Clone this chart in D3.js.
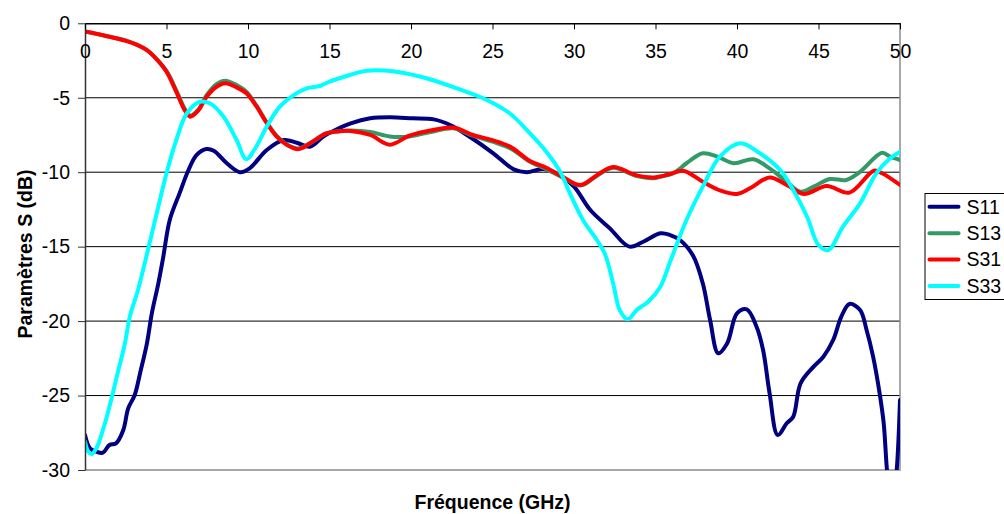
<!DOCTYPE html>
<html>
<head>
<meta charset="utf-8">
<script src="https://cdn.jsdelivr.net/npm/d3@7"></script>
<style>
  html, body { margin: 0; padding: 0; background: #fff; }
  svg { display: block; font-family: "Liberation Sans", Arial, sans-serif; }
</style>
</head>
<body>
<svg id="chart" width="1004" height="514"></svg>
<script>
// Frequency sweep, 0–50 GHz: [GHz, dB] pairs for each S-parameter
const s11 = [[0,-27.65],[0.3,-28.54],[0.7,-28.77],[1.1,-28.84],[1.5,-28.32],[1.9,-28.21],[2.35,-27.31],[2.65,-25.86],[3.05,-24.96],[3.4,-23.4],[3.8,-21.49],[4.1,-19.48],[4.5,-17.46],[4.8,-15.7],[5.2,-13.21],[5.8,-11.42],[6.35,-9.85],[6.85,-8.84],[7.45,-8.44],[7.9,-8.56],[8.7,-9.4],[9.5,-10.0],[10.1,-9.74],[11.15,-8.51],[12.2,-7.84],[13.0,-8.02],[13.8,-8.29],[14.6,-7.62],[15.3,-7.2],[16.3,-6.72],[17.5,-6.38],[18.7,-6.31],[20.1,-6.38],[21.4,-6.45],[22.4,-6.83],[23.6,-7.62],[25.05,-8.73],[26.3,-9.81],[27.1,-10.0],[28.1,-9.78],[29.1,-10.19],[30.0,-10.97],[31.0,-12.54],[32.2,-13.77],[33.4,-15.0],[34.25,-14.67],[35.3,-14.1],[35.9,-14.22],[36.5,-14.55],[37.3,-15.6],[37.9,-17.46],[38.35,-19.93],[38.85,-22.16],[39.4,-21.49],[40.0,-19.48],[40.6,-19.21],[41.2,-20.38],[41.6,-21.94],[42.0,-24.85],[42.5,-27.65],[43.05,-26.86],[43.45,-26.42],[43.9,-24.18],[44.7,-23.06],[45.3,-22.39],[45.9,-21.27],[46.4,-19.7],[46.9,-18.85],[47.55,-19.25],[47.95,-20.6],[48.35,-22.39],[48.75,-24.85],[49.0,-26.86],[49.2,-30.0],[49.5,-33.0],[49.8,-30.0],[50,-25.3]];

const s13 = [[0,-0.55],[1.3,-0.85],[2.5,-1.15],[3.2,-1.45],[3.8,-1.8],[4.4,-2.4],[5.0,-3.2],[5.6,-4.5],[6.1,-5.7],[6.45,-6.2],[6.95,-5.8],[7.45,-4.85],[8.05,-4.1],[8.6,-3.85],[9.3,-4.15],[9.9,-4.6],[10.5,-5.5],[11.15,-6.65],[11.75,-7.55],[12.4,-8.15],[13.1,-8.4],[13.8,-8.06],[14.8,-7.4],[15.6,-7.25],[16.3,-7.2],[17.5,-7.3],[18.7,-7.6],[19.9,-7.6],[21.2,-7.3],[22.6,-7.05],[23.8,-7.55],[25.0,-7.95],[26.1,-8.4],[27.3,-9.3],[28.3,-9.8],[29.3,-10.35],[30.4,-10.9],[31.4,-10.25],[32.4,-9.7],[33.8,-10.25],[34.9,-10.4],[35.3,-10.3],[36.1,-10.07],[36.9,-9.4],[37.9,-8.73],[38.8,-8.96],[39.8,-9.4],[41.0,-9.13],[42.0,-9.74],[43.05,-10.64],[43.9,-11.31],[44.7,-10.97],[45.7,-10.46],[46.7,-10.52],[47.55,-9.97],[48.9,-8.69],[49.4,-8.96],[50,-9.18]];

const s31 = [[0,-0.55],[1.3,-0.85],[2.5,-1.18],[3.2,-1.45],[3.8,-1.8],[4.4,-2.42],[5.0,-3.25],[5.6,-4.6],[6.1,-5.8],[6.45,-6.27],[6.95,-5.85],[7.45,-4.95],[8.05,-4.28],[8.6,-4.03],[9.3,-4.3],[9.9,-4.7],[10.5,-5.55],[11.15,-6.7],[11.75,-7.6],[12.4,-8.17],[13.1,-8.45],[13.8,-8.06],[14.8,-7.4],[15.6,-7.25],[16.3,-7.23],[17.5,-7.5],[18.7,-8.15],[19.9,-7.55],[21.2,-7.2],[22.6,-7.0],[23.8,-7.5],[25.0,-7.85],[26.1,-8.3],[27.3,-9.25],[28.3,-9.7],[29.3,-10.3],[30.4,-10.86],[31.4,-10.2],[32.4,-9.65],[33.8,-10.2],[34.9,-10.35],[35.9,-10.12],[36.7,-9.9],[37.9,-10.64],[39.0,-11.24],[40.0,-11.46],[40.8,-11.08],[42.0,-10.35],[43.05,-10.86],[44.1,-11.46],[45.5,-10.93],[46.9,-11.37],[48.4,-9.9],[48.9,-10.07],[50,-10.86]];

const s33 = [[0,-28.1],[0.2,-28.77],[0.4,-28.93],[0.7,-28.54],[1.1,-27.31],[1.5,-25.75],[1.95,-23.73],[2.45,-21.49],[2.75,-19.7],[3.25,-17.91],[3.8,-15.5],[4.4,-12.76],[5.0,-10.07],[5.6,-7.84],[6.25,-6.04],[7.05,-5.27],[7.65,-5.37],[8.5,-6.27],[9.3,-7.84],[9.9,-9.13],[10.5,-8.29],[11.15,-6.94],[11.95,-5.6],[12.8,-4.82],[13.6,-4.37],[14.4,-4.21],[15.0,-3.92],[16.25,-3.47],[17.3,-3.18],[19.1,-3.25],[20.95,-3.69],[22.8,-4.37],[24.65,-5.15],[26.05,-6.04],[27.3,-7.39],[28.3,-8.62],[29.15,-9.97],[29.75,-11.42],[30.55,-13.21],[31.4,-14.55],[31.9,-15.5],[32.4,-17.46],[32.8,-19.25],[33.3,-19.88],[33.85,-19.25],[34.55,-18.7],[35.3,-17.69],[35.9,-16.0],[36.9,-13.21],[37.9,-10.97],[38.95,-8.96],[40.2,-8.06],[41.4,-8.73],[42.65,-9.85],[43.45,-11.2],[44.3,-12.99],[45.0,-14.89],[45.6,-15.23],[46.5,-13.66],[47.55,-12.09],[48.55,-10.07],[49.4,-9.07],[50,-8.62]];

const seriesNames = ["S11", "S13", "S31", "S33"];
const seriesData = [s11, s13, s31, s33];
const seriesColors = ["#000080", "#339966", "#FF0000", "#00FFFF"];

const xTicks = [0, 5, 10, 15, 20, 25, 30, 35, 40, 45, 50];
const yTicks = [0, -5, -10, -15, -20, -25, -30];

const xTitle = "Fréquence (GHz)";
const yTitle = "Paramètres S (dB)";

// ---- layout ----
const plot = { left: 85, right: 900, top: 23.3, bottom: 470 };
const fontSize = 19.5;
const plainNumber = d => String(d); // keeps an ASCII hyphen for negatives

const svg = d3.select("#chart");

const x = d3.scaleLinear().domain([0, 50]).range([plot.left, plot.right]);
const y = d3.scaleLinear().domain([-30, 0]).range([plot.bottom, plot.top]);

// Horizontal gridlines
svg.append("g")
  .selectAll("line")
  .data(yTicks.filter(d => d !== 0 && d !== -30))
  .join("line")
  .attr("x1", plot.left).attr("x2", plot.right)
  .attr("y1", d => y(d)).attr("y2", d => y(d))
  .attr("stroke", "#000").attr("stroke-width", 1);

// Plot-area border (right and bottom)
svg.append("path")
  .attr("d", `M${plot.right},${plot.top}V${plot.bottom}H${plot.left}`)
  .attr("fill", "none").attr("stroke", "#8c8c8c").attr("stroke-width", 1.5);

// Curves, clipped to the plot area
svg.append("clipPath").attr("id", "plotClip")
  .append("rect")
  .attr("x", plot.left).attr("y", plot.top)
  .attr("width", plot.right - plot.left).attr("height", plot.bottom - plot.top);

const line = d3.line()
  .x(d => x(d[0]))
  .y(d => y(d[1]))
  .curve(d3.curveCatmullRom.alpha(0.5));

svg.append("g").attr("clip-path", "url(#plotClip)")
  .selectAll("path")
  .data(seriesData)
  .join("path")
  .attr("d", line)
  .attr("fill", "none")
  .attr("stroke", (d, i) => seriesColors[i])
  .attr("stroke-width", 4)
  .attr("stroke-linejoin", "round")
  .attr("stroke-linecap", "round");

// Y axis (left)
const yAxis = svg.append("g")
  .attr("transform", `translate(${plot.left},0)`)
  .call(d3.axisLeft(y).tickValues(yTicks).tickSize(7).tickSizeOuter(0).tickPadding(8).tickFormat(plainNumber));
yAxis.select(".domain").attr("stroke", "#333").attr("stroke-width", 1.5);
yAxis.selectAll(".tick line").attr("stroke", "#333");
yAxis.selectAll("text").attr("font-size", fontSize).attr("fill", "#000")
  .style("font-family", '"Liberation Sans", Arial, sans-serif');

// X axis along the 0 dB line, ticks pointing into the plot
const xAxis = svg.append("g")
  .attr("transform", `translate(0,${y(0)})`)
  .call(d3.axisBottom(x).tickValues(xTicks).tickSize(6).tickSizeOuter(0).tickPadding(15).tickFormat(plainNumber));
xAxis.select(".domain").attr("stroke", "#000").attr("stroke-width", 1.5);
xAxis.selectAll(".tick line").attr("stroke", "#000");
xAxis.selectAll("text").attr("font-size", fontSize).attr("fill", "#000")
  .style("font-family", '"Liberation Sans", Arial, sans-serif');

// Axis titles
svg.append("text")
  .attr("x", (plot.left + plot.right) / 2)
  .attr("y", 509)
  .attr("text-anchor", "middle")
  .attr("font-size", fontSize)
  .attr("font-weight", "bold")
  .text(xTitle);

svg.append("text")
  .attr("transform", "translate(32,254) rotate(-90)")
  .attr("text-anchor", "middle")
  .attr("font-size", fontSize)
  .attr("font-weight", "bold")
  .text(yTitle);

// Legend
const legend = svg.append("g").attr("transform", "translate(925,193.5)");
legend.append("rect")
  .attr("x", 0).attr("y", 0)
  .attr("width", 110).attr("height", 106)
  .attr("fill", "#fff").attr("stroke", "#000").attr("stroke-width", 1);

const rowY = d3.scalePoint().domain(seriesNames).range([13.3, 92.5]);
const rows = legend.selectAll("g.row")
  .data(seriesNames)
  .join("g")
  .attr("class", "row")
  .attr("transform", d => `translate(0,${rowY(d)})`);
rows.append("line")
  .attr("x1", 4.5).attr("x2", 33.5)
  .attr("stroke", (d, i) => seriesColors[i])
  .attr("stroke-width", 4)
  .attr("stroke-linecap", "round");
rows.append("text")
  .attr("x", 41.5)
  .attr("dy", "0.35em")
  .attr("font-size", fontSize)
  .text(d => d);
</script>
</body>
</html>
